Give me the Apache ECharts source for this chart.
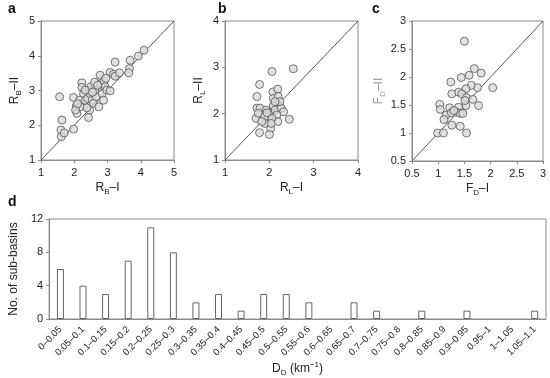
<!DOCTYPE html>
<html><head><meta charset="utf-8">
<script src="https://cdn.jsdelivr.net/npm/echarts@6/dist/echarts.min.js"></script>
<style>html,body{margin:0;padding:0;background:#fff}#c{width:550px;height:378px}</style>
</head><body><div id="c"></div>
<script>
// Panel a: R_B
const rbI  = [1.56,1.63,1.60,1.61,1.70,1.98,1.98,2.06,2.08,2.16,2.23,2.23,2.28,2.33,2.40,2.43,2.46,2.43,2.48,2.50,2.54,2.58,2.61,2.66,2.74,2.76,2.78,2.81,2.84,2.88,2.90,2.93,2.98,3.08,3.08,3.18,3.23,3.23,3.36,3.66,3.68,3.64,3.93,4.10,2.33,2.18,2.04,2.10,2.38,2.62,2.70,2.95,2.55];
const rbII = [2.82,2.15,1.86,1.67,1.78,1.89,2.80,2.55,2.34,2.72,3.22,3.09,2.91,2.72,2.77,3.01,2.44,2.22,2.91,3.11,2.72,2.63,3.24,2.82,2.53,3.09,3.44,3.20,2.91,2.72,3.28,3.11,3.01,2.99,3.52,3.47,3.82,3.41,3.51,3.63,3.87,3.51,3.99,4.16,3.01,2.53,2.44,2.62,2.50,3.00,3.15,3.35,2.95];
// Panel b: R_L
const rlI  = [2.06,2.54,1.78,1.72,2.08,2.19,2.09,2.20,2.09,2.24,1.72,1.79,1.93,2.00,1.98,1.70,1.75,1.90,2.13,2.27,2.32,2.17,1.90,2.19,2.45,2.03,1.78,2.00,1.83,2.06,2.24,2.04,2.13,1.95];
const rlII = [2.91,2.97,2.63,2.37,2.47,2.53,2.33,2.37,2.17,2.15,2.12,2.12,2.08,2.01,1.90,1.90,2.01,1.94,2.08,2.12,2.04,1.97,1.79,1.83,1.88,1.68,1.59,1.55,1.83,1.90,2.26,1.79,2.26,2.02];
// Panel c: F_D
const fdI  = [1.50,1.69,1.82,1.59,1.44,1.24,2.04,1.75,1.63,1.53,1.26,1.39,1.45,1.54,1.66,1.77,1.53,1.51,1.03,1.04,1.22,1.39,1.35,1.42,1.47,1.15,1.11,1.26,1.42,0.99,1.10,1.54,1.25,1.30];
const fdII = [2.64,2.15,2.07,2.03,1.99,1.91,1.81,1.81,1.85,1.79,1.70,1.73,1.70,1.63,1.60,1.49,1.49,1.58,1.51,1.42,1.45,1.46,1.37,1.35,1.35,1.32,1.24,1.14,1.12,1.00,1.00,1.00,1.36,1.40];
// Panel d: D_D histogram
const ddBins = ['0–0.05','0.05–0.1','0.1–0.15','0.15–0.2','0.2–0.25','0.25–0.3','0.3–0.35','0.35–0.4','0.4–0.45','0.45–0.5','0.5–0.55','0.55–0.6','0.6–0.65','0.65–0.7','0.7–0.75','0.75–0.8','0.8–0.85','0.85–0.9','0.9–0.95','0.95–1','1–1.05','1.05–1.1'];
const ddCounts = [6,4,3,7,11,8,2,3,1,3,3,2,0,2,1,0,1,0,1,0,0,1];
// axis ranges
const rangeA = [1,5,1], rangeB = [1,4,1], rangeC = [0.5,3,0.5], rangeD = [0,12,4];

const FONT = 'Liberation Sans, Arial, sans-serif';
const AX = '#8a8a8a';
const TXT = '#222';
const rich = (color) => ({
  n:{fontSize:12,fontFamily:FONT,color:color,lineHeight:16,verticalAlign:'middle'},
  s:{fontSize:8,fontFamily:FONT,color:color,lineHeight:9,verticalAlign:'bottom'}
});
function zip(a,b){return a.map((v,i)=>[v,b[i]]);}

const grids = [
  {left:41,top:21,width:133,height:139},
  {left:225,top:21,width:133,height:139},
  {left:412,top:21,width:131,height:140},
  {left:49,top:219,width:497,height:102}
].map(g=>Object.assign(g,{show:true,borderColor:AX,borderWidth:1,backgroundColor:'transparent'}));

function valAxis(idx,range,name,gap,isY,nameColor){
  return {
    type:'value',gridIndex:idx,min:range[0],max:range[1],interval:range[2],
    name:name,nameLocation:'middle',nameGap:gap,
    nameTextStyle:{rich:rich(nameColor||TXT)},
    axisLine:{show:true,lineStyle:{color:AX,width:1}},
    axisTick:{show:true,length:3,lineStyle:{color:AX}},
    axisLabel:{fontSize:11,fontFamily:FONT,color:TXT,margin:isY?6:7},
    splitLine:{show:false}
  };
}

const xAxes = [
  valAxis(0,rangeA,'{n|R}{s|B}{n|–I}',20,false),
  valAxis(1,rangeB,'{n|R}{s|L}{n|–I}',20,false),
  valAxis(2,rangeC,'{n|F}{s|D}{n|–I}',20,false),
  {type:'category',gridIndex:3,data:ddBins,
   name:'{n|D}{s|D}{n| (km}{sup|−1}{n|)}',nameLocation:'middle',nameGap:42,
   nameTextStyle:{rich:Object.assign(rich(TXT),{sup:{fontSize:8,fontFamily:FONT,color:TXT,lineHeight:9,verticalAlign:'top'}})},
   axisLine:{show:true,lineStyle:{color:AX}},axisTick:{show:false},
   axisLabel:{fontSize:9.5,fontFamily:FONT,color:TXT,rotate:45,interval:0,margin:9}}
];
const yAxes = [
  valAxis(0,rangeA,'{n|R}{s|B}{n|–II}',18,true),
  valAxis(1,rangeB,'{n|R}{s|L}{n|–II}',18,true),
  valAxis(2,rangeC,'{n|F}{s|D}{n|–II}',24,true,'#999'),
  valAxis(3,rangeD,'{n|No. of sub-basins}',21,true)
];

const pt = {symbol:'circle',symbolSize:8,itemStyle:{color:'#d9d9d9',borderColor:'#555',borderWidth:1}};
function diag(i,r){return {type:'line',xAxisIndex:i,yAxisIndex:i,data:[[r[0],r[0]],[r[1],r[1]]],symbol:'none',lineStyle:{color:'#555',width:1},silent:true,z:1};}
const series = [
  diag(0,rangeA),diag(1,rangeB),diag(2,rangeC),
  Object.assign({type:'scatter',xAxisIndex:0,yAxisIndex:0,data:zip(rbI,rbII),z:2},pt),
  Object.assign({type:'scatter',xAxisIndex:1,yAxisIndex:1,data:zip(rlI,rlII),z:2},pt),
  Object.assign({type:'scatter',xAxisIndex:2,yAxisIndex:2,data:zip(fdI,fdII),z:2},pt),
  {type:'bar',xAxisIndex:3,yAxisIndex:3,data:ddCounts.map(v=>v===0?'-':v),barWidth:7,
   itemStyle:{color:'#fff',borderColor:'#666',borderWidth:1}}
];
const letters = [['a',8,10],['b',218,10],['c',372,10],['d',8,203]].map(([t,x,y])=>({
  type:'text',left:x,top:y-8,style:{text:t,font:'bold 14px '+FONT,fill:'#111'}}));

const chart = echarts.init(document.getElementById('c'),null,{renderer:'canvas'});
chart.setOption({animation:false,grid:grids,xAxis:xAxes,yAxis:yAxes,series:series,graphic:letters});
</script></body></html>
